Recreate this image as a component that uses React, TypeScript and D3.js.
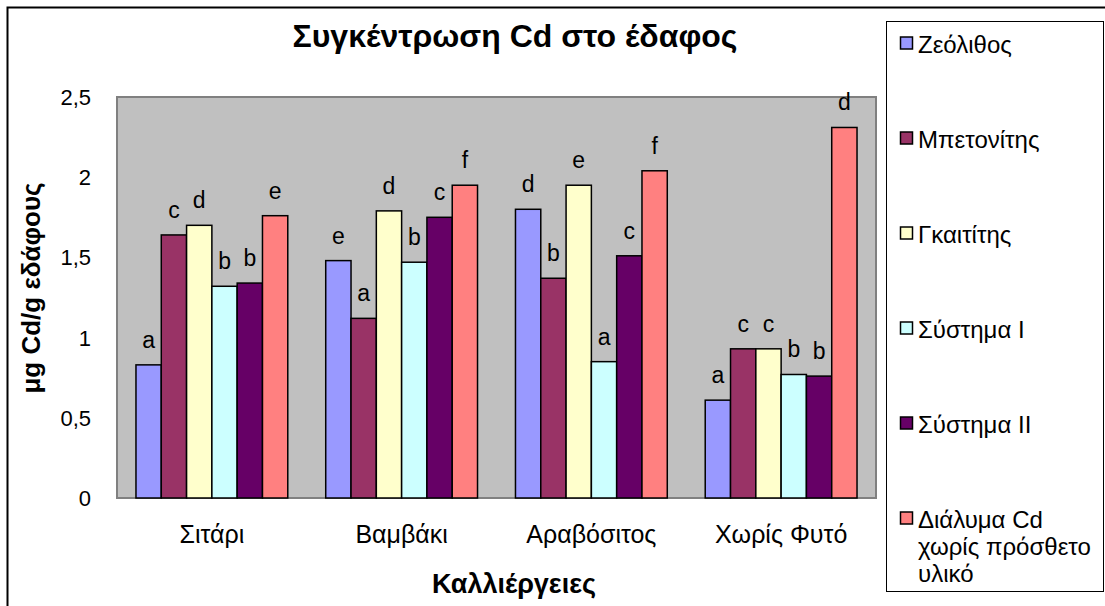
import { useEffect, useRef } from "react";
import * as d3 from "d3";

// Data
const categories = ["Σιτάρι", "Βαμβάκι", "Αραβόσιτος", "Χωρίς Φυτό"];
const seriesNames = [
  "Ζεόλιθος",
  "Μπετονίτης",
  "Γκαιτίτης",
  "Σύστημα I",
  "Σύστημα II",
  "Διάλυμα Cd χωρίς πρόσθετο υλικό",
];
const seriesColors = ["#9999FF", "#993366", "#FFFFCC", "#CCFFFF", "#660066", "#FF8080"];

// values per series, one per category
const zeolithos = [0.83, 1.48, 1.8, 0.61];
const bentonitis = [1.64, 1.12, 1.37, 0.93];
const gkaititis = [1.7, 1.79, 1.95, 0.93];
const systima1 = [1.32, 1.47, 0.85, 0.77];
const systima2 = [1.34, 1.75, 1.51, 0.76];
const dialyma = [1.76, 1.95, 2.04, 2.31];

// significance letters, same layout
const lettersZeo = ["a", "e", "d", "a"];
const lettersBen = ["c", "a", "b", "c"];
const lettersGka = ["d", "d", "e", "c"];
const lettersSys1 = ["b", "b", "a", "b"];
const lettersSys2 = ["b", "c", "c", "b"];
const lettersDia = ["e", "f", "f", "d"];

const yTicks = [0, 0.5, 1, 1.5, 2, 2.5];

const FONT = "'Liberation Sans', Arial, sans-serif";

const App = () => {
  const ref = useRef(null);

  useEffect(() => {
    if (!ref.current) return;
    d3.select(ref.current).selectAll("*").remove();

    const W = 1105;
    const H = 606;
    const plot = { left: 117, right: 876, top: 97, bottom: 498 };

    const svg = d3
      .select(ref.current)
      .append("svg")
      .attr("width", W)
      .attr("height", H)
      .style("position", "absolute")
      .style("left", 0)
      .style("top", 0)
      .style("font-family", FONT);

    svg.append("rect").attr("width", W).attr("height", H).attr("fill", "white");

    // chart border
    svg
      .append("rect")
      .attr("x", 7.5)
      .attr("y", 7.5)
      .attr("width", W + 20)
      .attr("height", H + 20)
      .attr("fill", "white")
      .attr("stroke", "black")
      .attr("stroke-width", 2);

    const values = [zeolithos, bentonitis, gkaititis, systima1, systima2, dialyma];
    const letters = [lettersZeo, lettersBen, lettersGka, lettersSys1, lettersSys2, lettersDia];

    const x0 = d3
      .scaleBand()
      .domain(categories)
      .range([plot.left, plot.right])
      .padding(0);

    const groupW = x0.bandwidth() * 0.8;
    const x1 = d3
      .scaleBand()
      .domain(seriesNames)
      .range([0, groupW])
      .padding(0);

    const y = d3.scaleLinear().domain([0, 2.5]).range([plot.bottom, plot.top]);

    // plot area
    svg
      .append("rect")
      .attr("x", plot.left)
      .attr("y", plot.top)
      .attr("width", plot.right - plot.left)
      .attr("height", plot.bottom - plot.top)
      .attr("fill", "#C0C0C0")
      .attr("stroke", "#808080")
      .attr("stroke-width", 2);

    // y ticks
    const fmt = (d) => d3.format("")(d).replace(".", ",");
    svg
      .append("g")
      .selectAll("text")
      .data(yTicks)
      .enter()
      .append("text")
      .attr("x", 91)
      .attr("y", (d) => y(d))
      .attr("dy", "0.36em")
      .attr("text-anchor", "end")
      .style("font-size", "22px")
      .text((d) => fmt(d));

    // bars
    const bars = [];
    seriesNames.forEach((s, si) => {
      categories.forEach((c, ci) => {
        bars.push({
          series: s,
          cat: c,
          value: values[si][ci],
          letter: letters[si][ci],
          color: seriesColors[si],
        });
      });
    });

    const offset = (x0.bandwidth() - groupW) / 2;

    svg
      .append("g")
      .selectAll("rect")
      .data(bars)
      .enter()
      .append("rect")
      .attr("x", (d) => x0(d.cat) + offset + x1(d.series))
      .attr("y", (d) => y(d.value))
      .attr("width", x1.bandwidth())
      .attr("height", (d) => plot.bottom - y(d.value))
      .attr("fill", (d) => d.color)
      .attr("stroke", "black")
      .attr("stroke-width", 1.5);

    svg
      .append("g")
      .selectAll("text")
      .data(bars)
      .enter()
      .append("text")
      .attr("x", (d) => x0(d.cat) + offset + x1(d.series) + x1.bandwidth() / 2)
      .attr("y", (d) => y(d.value) - 17)
      .attr("text-anchor", "middle")
      .style("font-size", "23px")
      .text((d) => d.letter);

    // category labels
    svg
      .append("g")
      .selectAll("text")
      .data(categories)
      .enter()
      .append("text")
      .attr("x", (d) => x0(d) + x0.bandwidth() / 2)
      .attr("y", 543)
      .attr("text-anchor", "middle")
      .style("font-size", "25px")
      .text((d) => d);

    // titles
    svg
      .append("text")
      .attr("x", 515)
      .attr("y", 47)
      .attr("text-anchor", "middle")
      .style("font-size", "32px")
      .style("font-weight", "bold")
      .text("Συγκέντρωση Cd στο έδαφος");

    svg
      .append("text")
      .attr("x", 514)
      .attr("y", 593)
      .attr("text-anchor", "middle")
      .style("font-size", "27px")
      .style("font-weight", "bold")
      .text("Καλλιέργειες");

    svg
      .append("text")
      .attr("transform", "translate(40, 288) rotate(-90)")
      .attr("text-anchor", "middle")
      .style("font-size", "26px")
      .style("font-weight", "bold")
      .text("μg Cd/g εδάφους");

    // legend
    svg
      .append("rect")
      .attr("x", 886.5)
      .attr("y", 21.5)
      .attr("width", 217)
      .attr("height", 570)
      .attr("fill", "white")
      .attr("stroke", "black")
      .attr("stroke-width", 1);

    const legendLines = [
      ["Ζεόλιθος"],
      ["Μπετονίτης"],
      ["Γκαιτίτης"],
      ["Σύστημα I"],
      ["Σύστημα II"],
      ["Διάλυμα Cd", "χωρίς πρόσθετο", "υλικό"],
    ];

    const legend = svg
      .append("g")
      .selectAll("g")
      .data(seriesNames)
      .enter()
      .append("g")
      .attr("transform", (d, i) => `translate(900, ${53 + i * 95})`);

    legend
      .append("rect")
      .attr("x", 0.5)
      .attr("y", -16)
      .attr("width", 12)
      .attr("height", 12)
      .attr("fill", (d, i) => seriesColors[i])
      .attr("stroke", "black")
      .attr("stroke-width", 1.5);

    legend
      .append("text")
      .attr("x", 18)
      .attr("y", 0)
      .style("font-size", "24px")
      .selectAll("tspan")
      .data((d, i) => legendLines[i])
      .enter()
      .append("tspan")
      .attr("x", 18)
      .attr("dy", (d, j) => (j === 0 ? 0 : 27))
      .text((d) => d);
  }, []);

  return <div ref={ref}></div>;
};

export default App;
